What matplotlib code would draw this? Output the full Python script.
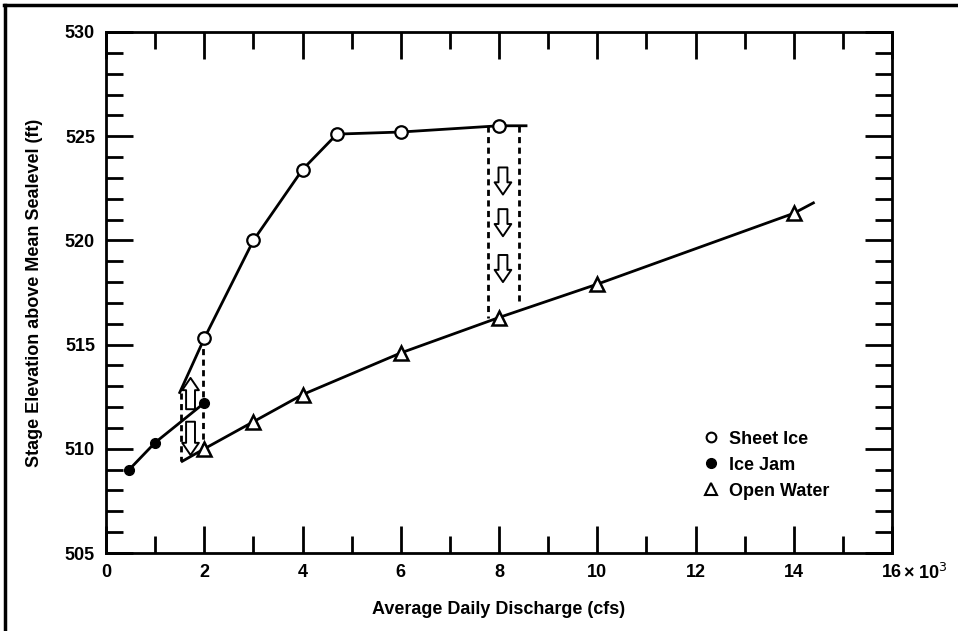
import matplotlib
matplotlib.use("Agg")
import matplotlib.pyplot as plt
from matplotlib.lines import Line2D
from matplotlib.ticker import MultipleLocator, FixedLocator

plt.rcParams['font.family'] = ['Liberation Sans', 'DejaVu Sans']

# Rating curves (discharge in thousands of cfs, stage in ft)
sheet_x = [1.5, 2.0, 3.0, 4.0, 4.7, 6.0, 8.0, 8.55]
sheet_y = [512.7, 515.3, 520.0, 523.4, 525.1, 525.2, 525.5, 525.5]
sheet_marks = [2.0, 3.0, 4.0, 4.7, 6.0, 8.0]
sheet_marks_y = [515.3, 520.0, 523.4, 525.1, 525.2, 525.5]

jam_x = [0.47, 1.0, 2.0]
jam_y = [509.0, 510.3, 512.2]

open_x = [1.55, 2.0, 3.0, 4.0, 6.0, 8.0, 10.0, 14.0, 14.4]
open_y = [509.4, 510.0, 511.3, 512.6, 514.6, 516.3, 517.9, 521.3, 521.8]
open_marks = [2.0, 3.0, 4.0, 6.0, 8.0, 10.0, 14.0]
open_marks_y = [510.0, 511.3, 512.6, 514.6, 516.3, 517.9, 521.3]

# dashed drop lines (x, y_top, y_bottom)
drops = [(1.52, 512.7, 509.4), (1.97, 515.3, 510.0),
         (7.78, 525.5, 516.3), (8.4, 525.5, 516.9)]

# hollow arrows (x, y_from, y_to)
arrows = [(1.72, 511.9, 513.4), (1.72, 511.3, 509.7),
          (8.08, 523.5, 522.2), (8.08, 521.5, 520.2), (8.08, 519.3, 518.0)]

fig = plt.figure(figsize=(9.58, 6.31), dpi=100)
ax = fig.add_axes([0.1107, 0.1236, 0.8204, 0.8257])

ax.plot(sheet_x, sheet_y, color='black', lw=2)
ax.plot(sheet_marks, sheet_marks_y, 'o', ms=9, mfc='white', mec='black', mew=1.6)
ax.plot(jam_x, jam_y, color='black', lw=2, marker='o', ms=7, mfc='black', mec='black')
ax.plot(open_x, open_y, color='black', lw=2)
ax.plot(open_marks, open_marks_y, '^', ms=10, mfc='white', mec='black', mew=1.8)

for x, y0, y1 in drops:
    ax.plot([x, x], [y0, y1], color='black', lw=2, ls=(0, (2.2, 1.6)), zorder=1)

for x, y0, y1 in arrows:
    ax.annotate('', xy=(x, y1), xytext=(x, y0),
                arrowprops=dict(arrowstyle='simple,head_width=0.75,head_length=0.55,tail_width=0.4',
                                mutation_scale=16, fc='white', ec='black', lw=1.4,
                                shrinkA=0, shrinkB=0))

ax.set_xlim(0, 16)
ax.set_ylim(505, 530)
ax.xaxis.set_major_locator(FixedLocator([0, 2, 4, 6, 8, 10, 12, 14, 16]))
ax.xaxis.set_minor_locator(MultipleLocator(1))
ax.yaxis.set_major_locator(MultipleLocator(5))
ax.yaxis.set_minor_locator(MultipleLocator(1))
ax.set_xticklabels(['0', '2', '4', '6', '8', '10', '12', '14', '16'])

ax.tick_params(which='both', direction='in', top=True, right=True, width=2,
               labelsize=13, colors='black')
ax.tick_params(which='major', length=19.5, pad=8)
ax.tick_params(which='minor', length=12.5)
for lab in ax.get_xticklabels() + ax.get_yticklabels():
    lab.set_fontweight('bold')
for sp in ax.spines.values():
    sp.set_linewidth(2)

ax.annotate('\u00d7 10$^3$', xy=(16, 0), xycoords=('data', 'axes fraction'),
            xytext=(8, -7), textcoords='offset points', fontsize=13, fontweight='bold',
            ha='left', va='top', annotation_clip=False)

ax.set_xlabel('Average Daily Discharge (cfs)', fontsize=13, fontweight='bold', labelpad=14)
ax.set_ylabel('Stage Elevation above Mean Sealevel (ft)', fontsize=13, fontweight='bold', labelpad=16)

handles = [
    Line2D([], [], ls='none', marker='o', ms=7, mfc='white', mec='black', mew=1.5),
    Line2D([], [], ls='none', marker='o', ms=7, mfc='black', mec='black'),
    Line2D([], [], ls='none', marker='^', ms=8, mfc='white', mec='black', mew=1.5),
]
ax.legend(handles, ['Sheet Ice', 'Ice Jam', 'Open Water'], frameon=False,
          loc='upper left', bbox_to_anchor=(0.747, 0.252),
          prop={'weight': 'bold', 'size': 13}, handlelength=1.0, handletextpad=0.5,
          labelspacing=0.5, borderpad=0)

# scanned page frame (top and left edges)
fig.add_artist(Line2D([0.004, 1.0], [0.992, 0.992], transform=fig.transFigure, color='black', lw=2.5))
fig.add_artist(Line2D([0.005, 0.005], [0.0, 0.992], transform=fig.transFigure, color='black', lw=2.5))

fig.savefig('out.png', dpi=100, facecolor='white')
